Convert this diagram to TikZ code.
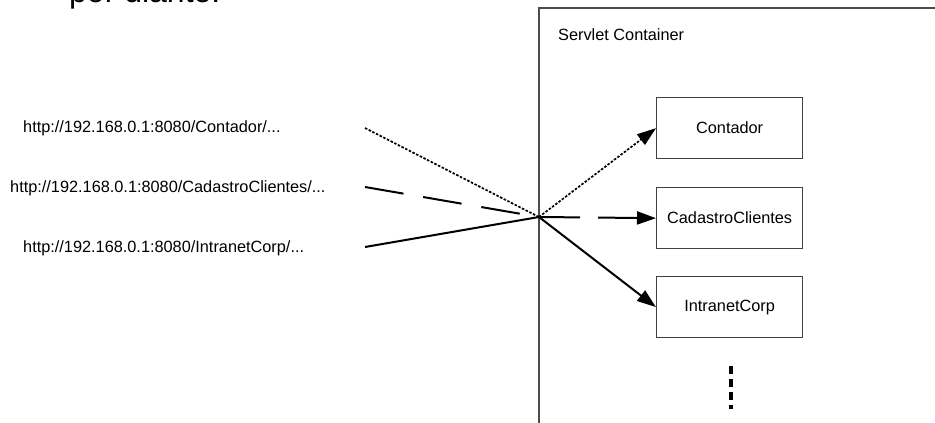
\documentclass[tikz,border=0pt]{standalone}
\usepackage{fontspec}
\setmainfont{Liberation Sans}
\usetikzlibrary{arrows.meta}
\begin{document}
\begin{tikzpicture}[x=1pt,y=-1pt,
  lbl/.style={inner sep=0pt,font=\fontsize{16.3}{18}\selectfont,anchor=base west},
  svbox/.style={draw=black!75,line width=1.3pt,fill=white,minimum width=146pt,minimum height=61pt,inner sep=0pt,font=\fontsize{16.3}{18}\selectfont,anchor=north west},
  tip/.style={-{Triangle[length=19pt,width=13pt]}},
  dotln/.style={line width=1.7pt,dash pattern=on 2.5pt off 1.6pt},
  dashln/.style={line width=2pt,dash pattern=on 39pt off 20pt},
  solidln/.style={line width=2pt}]
\useasboundingbox (0,0) rectangle (935,423);
\clip (0,0) rectangle (935,423);
% partially visible heading text
\node[inner sep=0pt,anchor=base west,font=\fontsize{32}{36}\selectfont] (hd) at (69,2.5) {por diante.};
% servlet container frame
\draw[draw=black!70,line width=1.3pt] (539,8) rectangle (960,440);
\node[lbl] (sc) at (558,40) {Servlet Container};
% URLs
\node[lbl] (u1) at (23,132) {http://192.168.0.1:8080/Contador/...};
\node[lbl] (u2) at (10,192) {http://192.168.0.1:8080/CadastroClientes/...};
\node[lbl] (u3) at (23,252) {http://192.168.0.1:8080/IntranetCorp/...};
% boxes
\node[svbox] (b1) at (656,97) {Contador};
\node[svbox] (b2) at (656,187) {CadastroClientes};
\node[svbox] (b3) at (656,276) {IntranetCorp};
% connector points
\coordinate (s1) at (365,128);
\coordinate (s2) at (365,187);
\coordinate (s3) at (365,247);
\coordinate (hub) at (539,217);
\draw[dotln] (s1) -- (hub);
\draw[dashln] (s2) -- (hub);
\draw[solidln] (s3) -- (hub);
\draw[dotln,tip] (hub) -- (b1.west);
\draw[dashln,dash pattern=on 41pt off 18pt,tip] (hub) -- (b2.west);
\draw[solidln,tip] (hub) -- (b3.west);
% continuation marks
\coordinate (v1) at (731,366);
\coordinate (v2) at (731,409);
\draw[line width=3.5pt,dash pattern=on 8pt off 5pt] (v1) -- (v2);
\end{tikzpicture}
\end{document}
